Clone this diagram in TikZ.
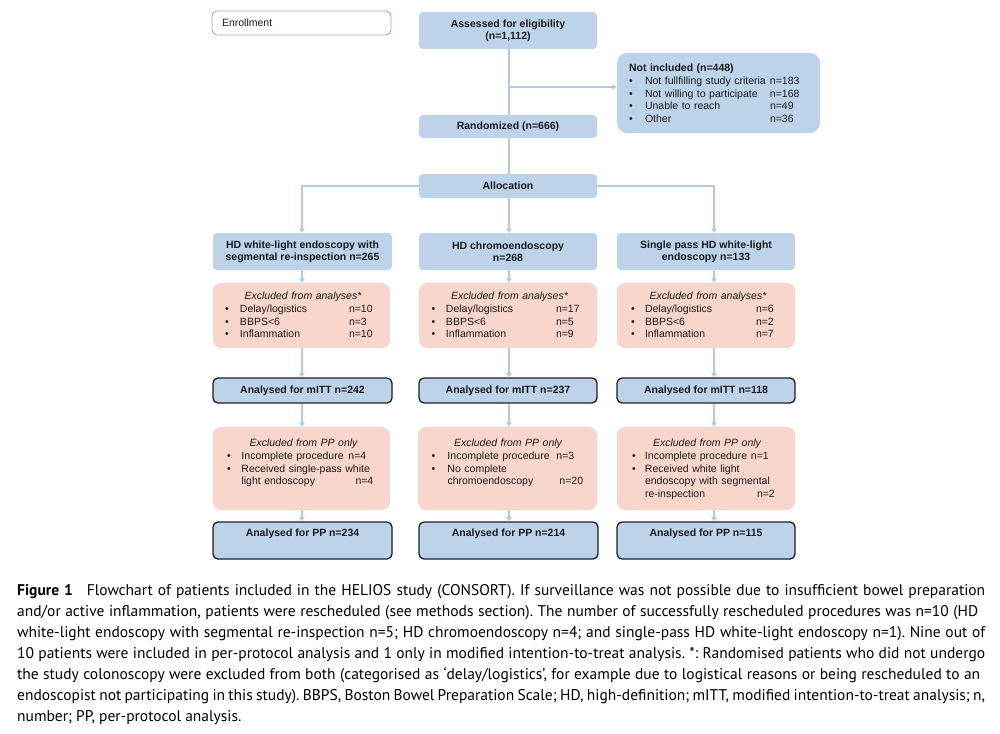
\documentclass[tikz,border=0pt]{standalone}
\usepackage{fontspec}
\setmainfont{Liberation Sans}
\newfontfamily\capfont[FakeStretch=1.0]{PT Sans}
\usetikzlibrary{arrows.meta,calc}
\definecolor{boxblue}{HTML}{BDD3EA}
\definecolor{boxpink}{HTML}{F9D6CB}
\definecolor{linkblue}{HTML}{B3CBE2}
\definecolor{enrolline}{HTML}{92AECB}
\definecolor{darkedge}{HTML}{1C1C28}
\definecolor{txt}{HTML}{1A1A1A}
\frenchspacing
\begin{document}
\begin{tikzpicture}[x=1pt,y=-1pt,
  every node/.style={text=txt},
  bluebox/.style={fill=boxblue, draw=none, rounded corners=4pt, inner sep=0pt, align=center,
    font=\bfseries\fontsize{10.5}{12.3}\selectfont},
  notbox/.style={fill=boxblue, draw=none, rounded corners=10pt, inner sep=0pt},
  pinkbox/.style={fill=boxpink, draw=none, rounded corners=8pt, inner sep=0pt},
  resbox/.style={fill=boxblue, draw=darkedge, line width=1.3pt, rounded corners=5pt, inner sep=0pt,
    align=center, font=\bfseries\fontsize{10.5}{12.3}\selectfont},
  enrbox/.style={fill=white, draw=enrolline, line width=0.9pt, rounded corners=5pt, inner xsep=10pt,
    inner ysep=0pt, text width=159pt, align=left, font=\fontsize{10.5}{12.3}\selectfont},
  listtext/.style={inner sep=0pt, text width=156pt, align=left, anchor=north west,
    font=\fontsize{10.5}{12.7}\selectfont},
  link/.style={draw=linkblue, line width=1.1pt},
  arr/.style={link, -{Triangle[width=5.5pt,length=4.5pt]}},
  capline/.style={inner sep=0pt, anchor=base west, text=black, font=\capfont\fontsize{15.5}{21}\selectfont}
]
\useasboundingbox (0,0) rectangle (1000,733);

\coordinate (lx) at (302,0);
\coordinate (mx) at (509,0);
\coordinate (rx) at (714,0);
\coordinate (br) at (509,87);

% enrollment
\node[enrbox, minimum height=24pt] (enrol) at (301.5,23) {Enrollment};
\node[bluebox, minimum width=178pt, minimum height=37pt] (assess) at (508,30.5) {Assessed for eligibility\\(n=1,112)};
\node[bluebox, minimum width=178pt, minimum height=23pt] (rand) at (508,126.5) {Randomized (n=666)};
\node[notbox, minimum width=203pt, minimum height=80pt] (notinc) at (718.5,93) {};
\node[listtext, text width=185pt] (notinct) at ($(notinc.north west)+(12,11)$) {%
\textbf{Not included (n=448)}\\
\makebox[16pt][l]{•}\makebox[125pt][l]{Not fullfilling study criteria}n=183\\
\makebox[16pt][l]{•}\makebox[125pt][l]{Not willing to participate}n=168\\
\makebox[16pt][l]{•}\makebox[125pt][l]{Unable to reach}n=49\\
\makebox[16pt][l]{•}\makebox[125pt][l]{Other}n=36};

\node[bluebox, minimum width=178pt, minimum height=24pt] (alloc) at (508,186) {Allocation};

% column headers
\node[bluebox, minimum width=179pt, minimum height=37pt] (colA) at (302.5,251.5) {HD white-light endoscopy with\\segmental re-inspection n=265};
\node[bluebox, minimum width=178pt, minimum height=37pt] (colB) at (508,251.5) {HD chromoendoscopy\\n=268};
\node[bluebox, minimum width=178pt, minimum height=37pt] (colC) at (706,251.5) {Single pass HD white-light\\endoscopy n=133};

% excluded from analyses
\node[pinkbox, minimum width=177pt, minimum height=65pt] (exA) at (301.5,315.5) {};
\node[pinkbox, minimum width=178pt, minimum height=65pt] (exB) at (508,315.5) {};
\node[pinkbox, minimum width=178pt, minimum height=65pt] (exC) at (706,315.5) {};
\node[listtext] (exAt) at ($(exA.north west)+(12,9)$) {%
\makebox[156pt]{\itshape Excluded from analyses*}\\
\makebox[15pt][l]{•}\makebox[109pt][l]{Delay/logistics}n=10\\
\makebox[15pt][l]{•}\makebox[109pt][l]{BBPS<6}n=3\\
\makebox[15pt][l]{•}\makebox[109pt][l]{Inflammation}n=10};
\node[listtext] (exBt) at ($(exB.north west)+(12.5,9)$) {%
\makebox[156pt]{\itshape Excluded from analyses*}\\
\makebox[14.5pt][l]{•}\makebox[110pt][l]{Delay/logistics}n=17\\
\makebox[14.5pt][l]{•}\makebox[110pt][l]{BBPS<6}n=5\\
\makebox[14.5pt][l]{•}\makebox[110pt][l]{Inflammation}n=9};
\node[listtext] (exCt) at ($(exC.north west)+(14,9)$) {%
\makebox[154pt]{\itshape Excluded from analyses*}\\
\makebox[14pt][l]{•}\makebox[111pt][l]{Delay/logistics}n=6\\
\makebox[14pt][l]{•}\makebox[111pt][l]{BBPS<6}n=2\\
\makebox[14pt][l]{•}\makebox[111pt][l]{Inflammation}n=7};

% mITT
\node[resbox, minimum width=179pt, minimum height=25pt] (mA) at (302.5,390.5) {Analysed for mITT n=242};
\node[resbox, minimum width=178pt, minimum height=25pt] (mB) at (508,390.5) {Analysed for mITT n=237};
\node[resbox, minimum width=178pt, minimum height=25pt] (mC) at (706,390.5) {Analysed for mITT n=118};

% excluded from PP
\node[pinkbox, minimum width=177pt, minimum height=83pt] (ppxA) at (301.5,468.5) {};
\node[pinkbox, minimum width=179pt, minimum height=83pt] (ppxB) at (507.5,468.5) {};
\node[pinkbox, minimum width=178pt, minimum height=83pt] (ppxC) at (706,468.5) {};
\node[listtext] (ppxAt) at ($(ppxA.north west)+(14,12)$) {%
\makebox[153pt]{\itshape Excluded from PP only}\\
\makebox[14.5pt][l]{•}\makebox[107pt][l]{Incomplete procedure}n=4\\
\makebox[14.5pt][l]{•}Received single-pass white\\
\makebox[14.5pt][l]{}\makebox[114pt][l]{light endoscopy}n=4};
\node[listtext] (ppxBt) at ($(ppxB.north west)+(13.5,12)$) {%
\makebox[153pt]{\itshape Excluded from PP only}\\
\makebox[16pt][l]{•}\makebox[109pt][l]{Incomplete procedure}n=3\\
\makebox[16pt][l]{•}No complete\\
\makebox[16pt][l]{}\makebox[112pt][l]{chromoendoscopy}n=20};
\node[listtext] (ppxCt) at ($(ppxC.north west)+(15,12)$) {%
\makebox[150pt]{\itshape Excluded from PP only}\\
\makebox[13pt][l]{•}\makebox[106pt][l]{Incomplete procedure}n=1\\
\makebox[13pt][l]{•}Received white light\\
\makebox[13pt][l]{}endoscopy with segmental\\
\makebox[13pt][l]{}\makebox[112pt][l]{re-inspection}n=2};

% PP
\node[resbox, minimum width=179pt, inner ysep=0pt, text height=14.5pt, text depth=22.5pt] (pA) at (302.5,540.5) {Analysed for PP n=234};
\node[resbox, minimum width=179pt, inner ysep=0pt, text height=14.5pt, text depth=22.5pt] (pB) at (508.5,540.5) {Analysed for PP n=214};
\node[resbox, minimum width=178pt, inner ysep=0pt, text height=14.5pt, text depth=22.5pt] (pC) at (706,540.5) {Analysed for PP n=115};

% connectors
\draw[link] (mx |- assess.south) -- (mx |- rand.north);
\draw[arr] (br) -- (br -| notinc.west);
\draw[link] (mx |- rand.south) -- (mx |- alloc.north);
\draw[arr] (alloc.west) -| (lx |- colA.north);
\draw[arr] (mx |- alloc.south) -- (mx |- colB.north);
\draw[arr] (alloc.east) -| (rx |- colC.north);
\foreach \c/\a/\b/\m/\q/\p in {lx/colA/exA/mA/ppxA/pA, mx/colB/exB/mB/ppxB/pB, rx/colC/exC/mC/ppxC/pC}{
  \draw[arr] (\c |- \a.south) -- (\c |- \b.north);
  \draw[arr] (\c |- \b.south) -- (\c |- \m.north);
  \draw[arr] (\c |- \m.south) -- (\c |- \q.north);
  \draw[arr] (\c |- \q.south) -- (\c |- \p.north);
}

% caption
\node[capline] (cap1) at (17,595) {\makebox[968pt][s]{\textbf{Figure 1}\hspace{14pt}Flowchart of patients included in the HELIOS study (CONSORT). If surveillance was not possible due to insufficient bowel preparation}};
\node[capline] (cap2) at (17,616) {\makebox[961pt][s]{and/or active inflammation, patients were rescheduled (see methods section). The number of successfully rescheduled procedures was n=10 (HD}};
\node[capline] (cap3) at (17,637) {\makebox[968pt][s]{white-light endoscopy with segmental re-inspection n=5; HD chromoendoscopy n=4; and single-pass HD white-light endoscopy n=1). Nine out of}};
\node[capline] (cap4) at (17,658) {\makebox[968pt][s]{10 patients were included in per-protocol analysis and 1 only in modified intention-to-treat analysis. *: Randomised patients who did not undergo}};
\node[capline] (cap5) at (17,679) {\makebox[963pt][s]{the study colonoscopy were excluded from both (categorised as ‘delay/logistics’, for example due to logistical reasons or being rescheduled to an}};
\node[capline] (cap6) at (17,700) {\makebox[968pt][s]{endoscopist not participating in this study). BBPS, Boston Bowel Preparation Scale; HD, high-definition; mITT, modified intention-to-treat analysis; n,}};
\node[capline] (cap7) at (17,721) {number; PP, per-protocol analysis.};
\end{tikzpicture}
\end{document}
